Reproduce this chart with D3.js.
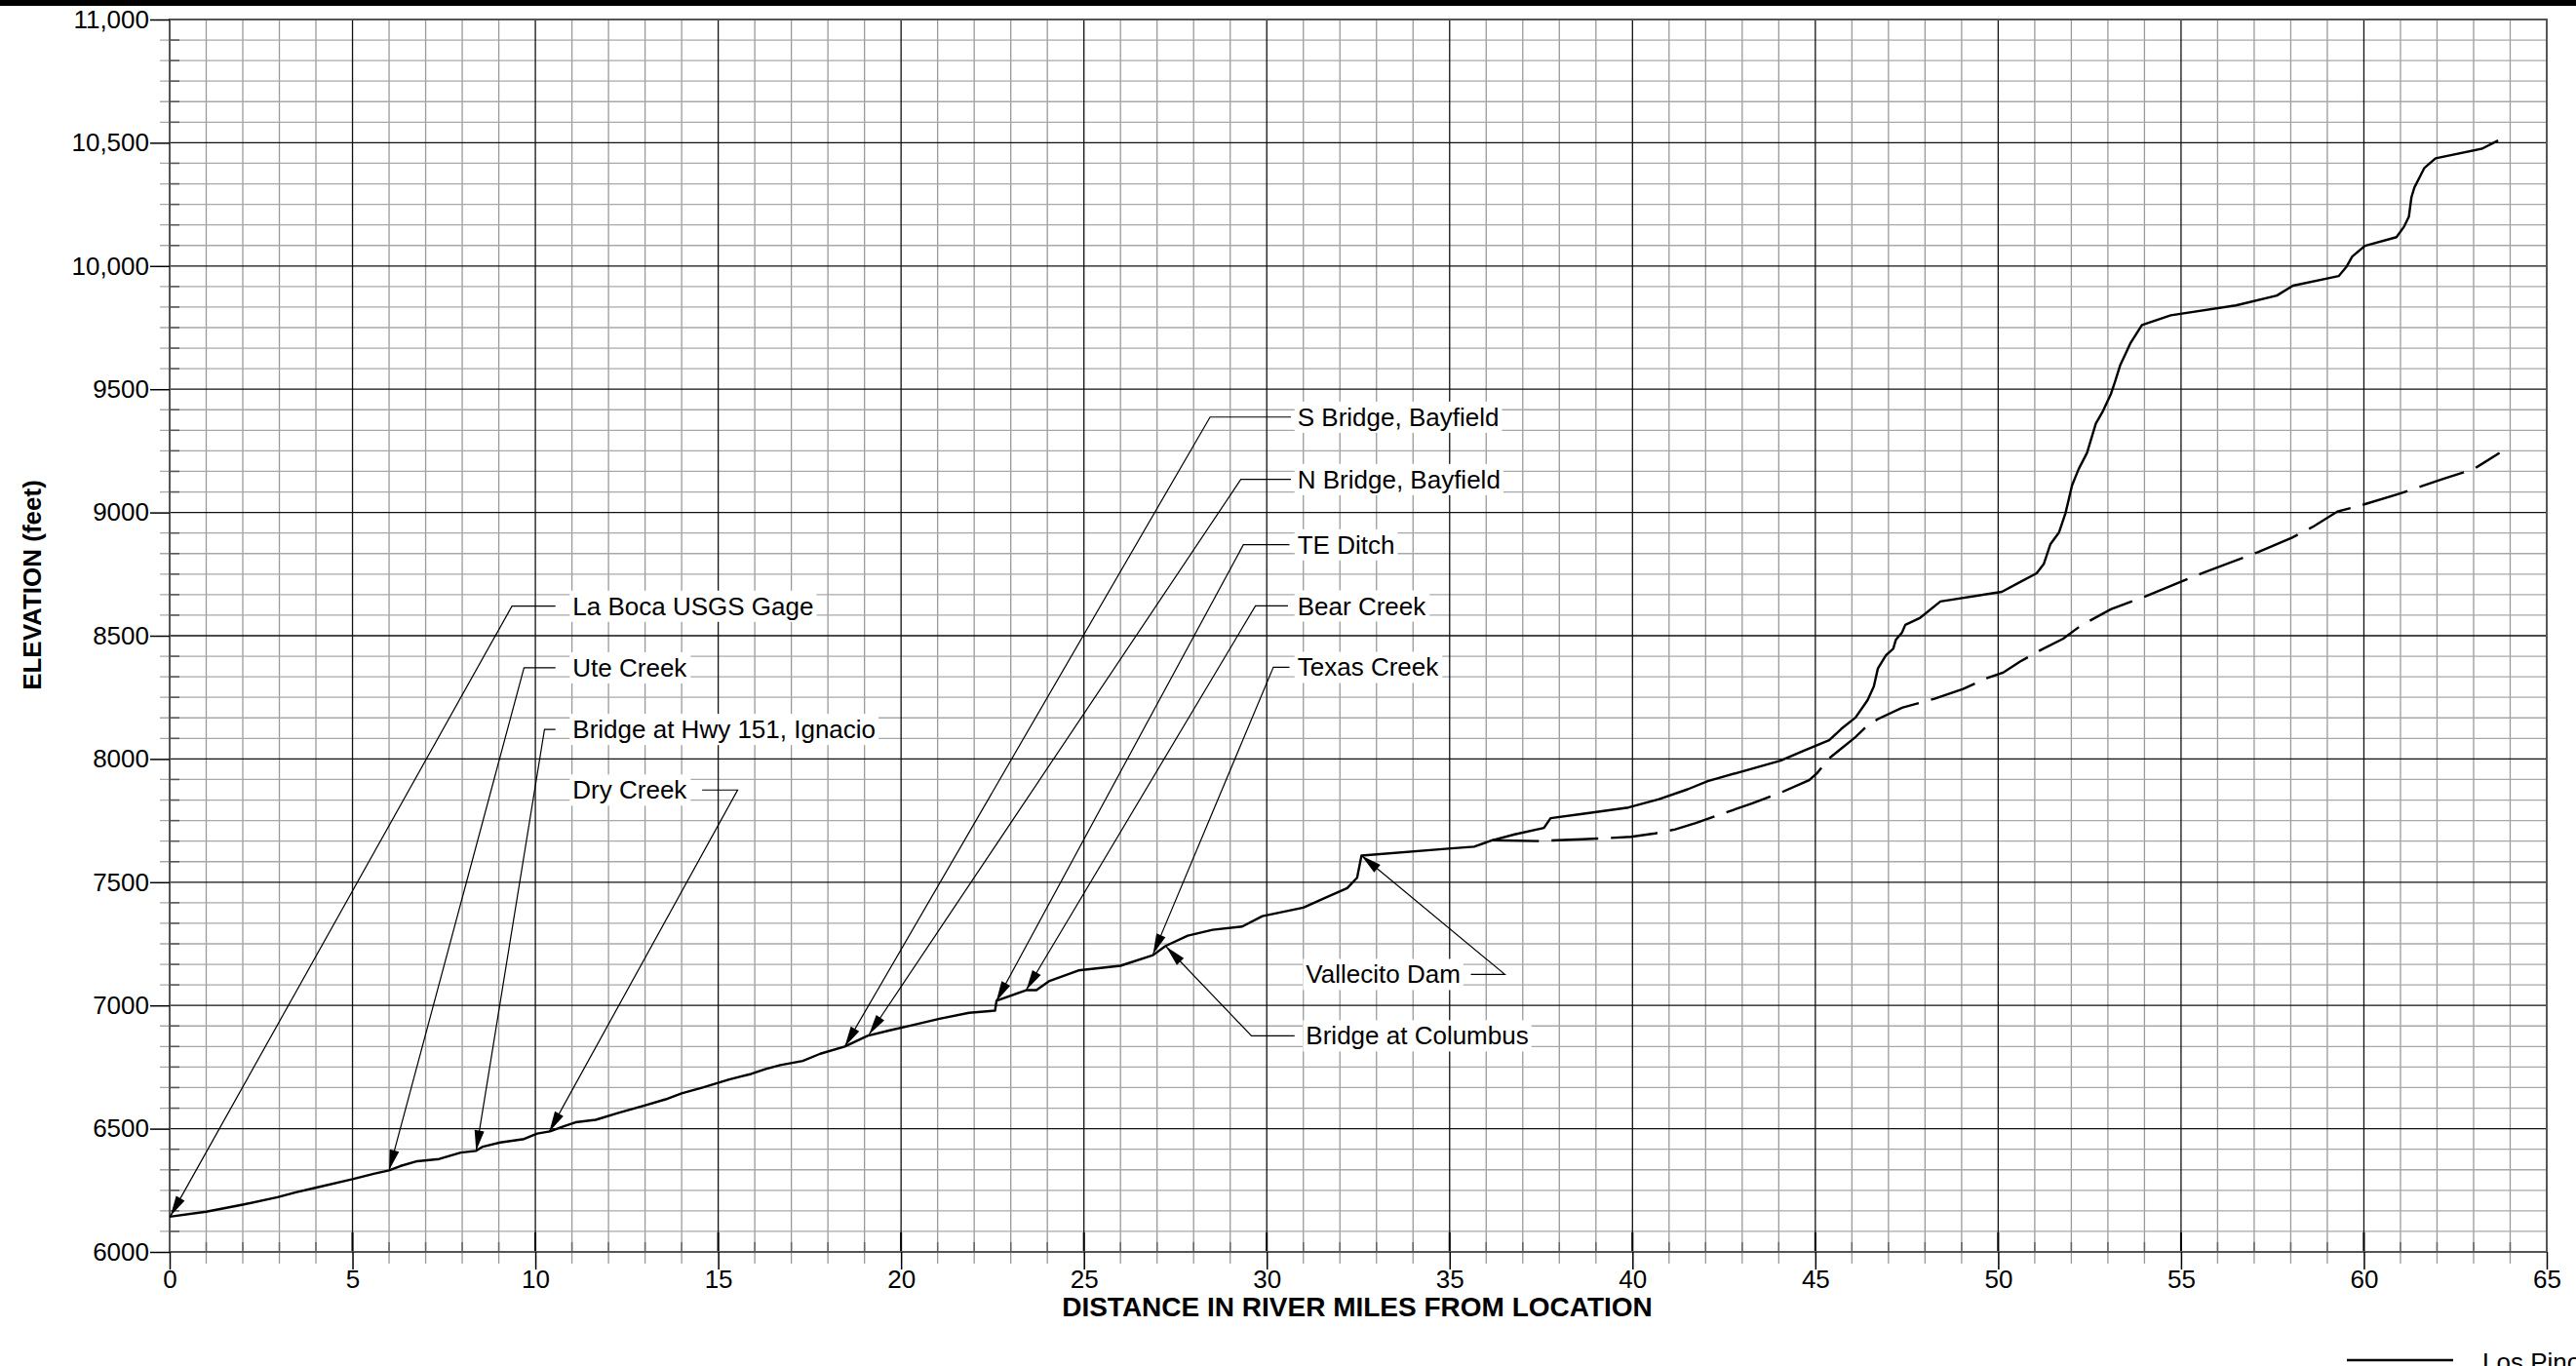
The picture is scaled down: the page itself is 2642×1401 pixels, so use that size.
<!DOCTYPE html>
<html>
<head>
<meta charset="utf-8">
<script src="https://cdnjs.cloudflare.com/ajax/libs/d3/7.8.5/d3.min.js"></script>
<style>
html, body { margin: 0; padding: 0; background: #fff; }
svg { display: block; font-family: "Liberation Sans", Arial, sans-serif; }
</style>
</head>
<body>
<div id="canvas"></div>
<script>
/* Profile of the river bed: distance (miles) and elevation (feet) */
var profileMiles = [0, 1.0, 2.0, 2.95, 3.45, 4.04, 5.0, 5.58, 6.0, 6.3, 6.77, 7.37, 7.96, 8.38, 8.56,
    9.04, 9.69, 10.05, 10.4, 10.76, 11.1, 11.65, 12.25, 12.96, 13.56, 14.0, 14.6, 15.3, 15.9, 16.3,
    16.7, 17.31, 17.79, 18.46, 19.08, 19.69, 20.23, 21.05, 21.86, 22.57, 22.61, 23.42, 23.7, 24.04,
    24.85, 26.0, 26.89, 27.23, 27.84, 28.52, 29.33, 29.88, 31.0, 31.64, 32.2, 32.47, 32.59, 35.05,
    35.67, 36.16, 36.78, 37.58, 37.76, 38.63, 39.89, 40.73, 41.51, 42.06, 43.06, 44.05, 44.72, 45.38,
    45.71, 46.1, 46.43, 46.6, 46.71, 46.93, 47.13, 47.2, 47.37, 47.46, 47.87, 48.42, 50.1, 50.54,
    51.05, 51.25, 51.43, 51.66, 51.84, 52.02, 52.2, 52.43, 52.67, 52.85, 53.08, 53.2, 53.34, 53.49,
    53.61, 53.93, 54.72, 56.5, 57.62, 58.06, 59.31, 59.52, 59.68, 60.03, 60.89, 61.1, 61.23, 61.3,
    61.38, 61.65, 61.96, 63.23, 63.67];
var profileElev = [6143, 6163, 6192, 6222, 6242, 6262, 6295, 6317, 6331, 6348, 6368, 6377, 6403, 6410, 6427,
    6444, 6458, 6480, 6489, 6509, 6526, 6536, 6563, 6593, 6619, 6643, 6668, 6700, 6722, 6742,
    6758, 6775, 6804, 6833, 6877, 6899, 6917, 6946, 6970, 6979, 7019, 7062, 7062, 7098,
    7142, 7161, 7204, 7241, 7283, 7307, 7320, 7362, 7397, 7439, 7476, 7518, 7608, 7637,
    7644, 7670, 7694, 7720, 7760, 7777, 7803, 7837, 7877, 7910, 7952, 7993, 8036, 8076,
    8122, 8168, 8239, 8294, 8367, 8420, 8447, 8483, 8513, 8544, 8573, 8639, 8678, 8713,
    8753, 8792, 8872, 8918, 8997, 9110, 9176, 9242, 9361, 9407, 9480, 9533, 9599, 9646,
    9685, 9760, 9800, 9840, 9880, 9920, 9959, 9996, 10038, 10082, 10117, 10160, 10200, 10279,
    10318, 10397, 10437, 10476, 10509];

/* Dashed branch above Vallecito */
var branchMiles = [36.16, 37.41, 38.63, 39.96, 40.62, 41.17, 41.73, 42.5, 43.28, 44.05, 44.83, 45.05,
    45.38, 45.71, 46.1, 46.38, 46.71, 47.37, 48.26, 49.04, 49.7, 50.13, 50.6, 51.14, 51.78, 52.26,
    53.08, 54.03, 55.56, 57.1, 58.04, 58.63, 59.28, 59.81, 60.99, 62.17, 63.0, 63.71];
var branchElev = [7670, 7667, 7674, 7684, 7698, 7714, 7740, 7780, 7820, 7863, 7914, 7943,
    8003, 8042, 8089, 8129, 8162, 8208, 8244, 8284, 8328, 8350, 8395, 8440, 8488, 8541,
    8607, 8660, 8753, 8839, 8898, 8944, 9004, 9024, 9077, 9136, 9176, 9242];

var xTickValues = [0, 5, 10, 15, 20, 25, 30, 35, 40, 45, 50, 55, 60, 65];
var yTickValues = [6000, 6500, 7000, 7500, 8000, 8500, 9000, 9500, 10000, 10500, 11000];
var yTickLabels = ['6000', '6500', '7000', '7500', '8000', '8500', '9000', '9500', '10,000', '10,500', '11,000'];

/* Callouts: label, where the label sits, where the leader bends, where the arrow points */
var calloutNames = ['La Boca USGS Gage', 'Ute Creek', 'Bridge at Hwy 151, Ignacio', 'Dry Creek',
    'S Bridge, Bayfield', 'N Bridge, Bayfield', 'TE Ditch', 'Bear Creek', 'Texas Creek',
    'Vallecito Dam', 'Bridge at Columbus'];
var calloutTextMile = [11.02, 11.02, 11.02, 11.02, 30.84, 30.84, 30.84, 30.84, 30.84, 31.07, 31.07];
var calloutTextElev = [8620, 8370, 8120, 7874, 9387, 9134, 8869, 8621, 8372, 7126, 6877];
var calloutStartMile = [10.55, 10.55, 10.55, 14.56, 30.66, 30.66, 30.62, 30.58, 30.62, 35.58, 30.76];
var calloutElbowMile = [9.36, 9.69, 10.25, 15.53, 28.45, 29.29, 29.36, 29.69, 30.18, 36.51, 29.58];
var calloutTipMile = [0.02, 6.0, 8.38, 10.38, 18.46, 19.12, 22.6, 23.42, 26.89, 32.59, 27.25];
var calloutTipElev = [6145, 6331, 6410, 6488, 6833, 6881, 7016, 7062, 7208, 7608, 7238];

var legendLabel = 'Los Pinos';

function init()
{
    var width = 2642;
    var height = 1401;

    var svg = d3.select('#canvas').append('svg');
    svg.attr('width', width)
       .attr('height', height);

    var x = d3.scaleLinear().domain([0, 65]).range([174, 2612]);
    var y = d3.scaleLinear().domain([6000, 11000]).range([1284, 20]);

    /* Heavy rule along the top of the sheet */
    svg.append('line')
       .attr('x1', 0).attr('x2', width)
       .attr('y1', 3).attr('y2', 3)
       .attr('stroke', '#000')
       .attr('stroke-width', 6);

    var minorX = d3.range(0, 66).filter(function(d) { return d % 5 !== 0; });
    var minorY = d3.range(0, 61).filter(function(k) { return k % 6 !== 0; })
                               .map(function(k) { return 6000 + k * 500 / 6; });

    var grid = svg.append('g');

    grid.selectAll('.vminor')
        .data(minorX)
        .enter().append('line')
            .attr('x1', function(d) { return x(d); })
            .attr('x2', function(d) { return x(d); })
            .attr('y1', y(11000))
            .attr('y2', y(6000) + 12)
            .attr('stroke', '#9a9a9a')
            .attr('stroke-width', 1.3);

    grid.selectAll('.hminor')
        .data(minorY)
        .enter().append('line')
            .attr('x1', x(0) - 10)
            .attr('x2', x(65))
            .attr('y1', function(d) { return y(d); })
            .attr('y2', function(d) { return y(d); })
            .attr('stroke', '#a8a8a8')
            .attr('stroke-width', 1.3);

    grid.selectAll('.vmajor')
        .data(xTickValues)
        .enter().append('line')
            .attr('x1', function(d) { return x(d); })
            .attr('x2', function(d) { return x(d); })
            .attr('y1', y(11000))
            .attr('y2', y(6000))
            .attr('stroke', '#111')
            .attr('stroke-width', 1.3);

    grid.selectAll('.hmajor')
        .data(yTickValues)
        .enter().append('line')
            .attr('x1', x(0))
            .attr('x2', x(65))
            .attr('y1', function(d) { return y(d); })
            .attr('y2', function(d) { return y(d); })
            .attr('stroke', '#111')
            .attr('stroke-width', 1.3);

    /* Short dark ticks on the inside of the left and bottom edges */
    grid.selectAll('.ltick')
        .data(minorY)
        .enter().append('line')
            .attr('x1', x(0)).attr('x2', x(0) + 10)
            .attr('y1', function(d) { return y(d); })
            .attr('y2', function(d) { return y(d); })
            .attr('stroke', '#555').attr('stroke-width', 1.5);

    grid.selectAll('.btick')
        .data(minorX)
        .enter().append('line')
            .attr('x1', function(d) { return x(d); })
            .attr('x2', function(d) { return x(d); })
            .attr('y1', y(6000)).attr('y2', y(6000) - 10)
            .attr('stroke', '#666').attr('stroke-width', 1.5);

    grid.selectAll('.bmtick')
        .data(xTickValues)
        .enter().append('line')
            .attr('x1', function(d) { return x(d); })
            .attr('x2', function(d) { return x(d); })
            .attr('y1', y(6000)).attr('y2', y(6000) - 20)
            .attr('stroke', '#000').attr('stroke-width', 2);

    grid.append('rect')
        .attr('x', x(0))
        .attr('y', y(11000))
        .attr('width', x(65) - x(0))
        .attr('height', y(6000) - y(11000))
        .attr('fill', 'none')
        .attr('stroke', '#555')
        .attr('stroke-width', 2);

    /* Axes */
    var xAxis = d3.axisBottom(x)
                  .tickValues(xTickValues)
                  .tickSize(18)
                  .tickPadding(1)
                  .tickFormat(function(d) { return d; });

    var yAxis = d3.axisLeft(y)
                  .tickValues(yTickValues)
                  .tickSize(20)
                  .tickPadding(1)
                  .tickFormat(function(d, i) { return yTickLabels[i]; });

    var gx = svg.append('g')
                .attr('transform', 'translate(0,' + y(6000) + ')')
                .call(xAxis);
    var gy = svg.append('g')
                .attr('transform', 'translate(' + x(0) + ',0)')
                .call(yAxis);

    [gx, gy].forEach(function(g) {
        g.select('.domain').remove();
        g.selectAll('.tick line')
         .attr('stroke', '#000')
         .attr('stroke-width', 1.5);
        g.selectAll('.tick text')
         .attr('fill', '#000')
         .style('font-family', '"Liberation Sans", Arial, sans-serif')
         .style('font-size', '26px');
    });

    svg.append('text')
       .attr('transform', 'translate(33,600) rotate(-90)')
       .attr('text-anchor', 'middle')
       .attr('dy', '0.35em')
       .style('font-size', '26px')
       .style('font-weight', 'bold')
       .text('ELEVATION (feet)');

    svg.append('text')
       .attr('x', 1392)
       .attr('y', 1350)
       .attr('text-anchor', 'middle')
       .style('font-size', '28px')
       .style('font-weight', 'bold')
       .text('DISTANCE IN RIVER MILES FROM LOCATION');

    /* Profile lines */
    var line = d3.line()
                 .x(function(d) { return x(d[0]); })
                 .y(function(d) { return y(d[1]); });

    var profile = d3.zip(profileMiles, profileElev);
    var branch = d3.zip(branchMiles, branchElev);

    svg.append('path')
       .attr('d', line(branch))
       .attr('fill', 'none')
       .attr('stroke', '#000')
       .attr('stroke-width', 2.4)
       .attr('stroke-dasharray', '48,13');

    svg.append('path')
       .attr('d', line(profile))
       .attr('fill', 'none')
       .attr('stroke', '#000')
       .attr('stroke-width', 2.4)
       .attr('stroke-linejoin', 'round');

    /* Callouts */
    var callouts = svg.append('g');

    calloutNames.forEach(function(name, i)
    {
        var g = callouts.append('g');
        var tx = x(calloutTextMile[i]);
        var ty = y(calloutTextElev[i]);

        var box = g.append('rect').attr('fill', '#fff');
        var text = g.append('text')
                    .attr('x', tx)
                    .attr('y', ty)
                    .attr('dy', '0.35em')
                    .style('font-size', '26px')
                    .text(name);

        var bb = text.node().getBBox();
        box.attr('x', bb.x - 3)
           .attr('y', bb.y - 1)
           .attr('width', bb.width + 6)
           .attr('height', bb.height + 2);

        var ex = x(calloutElbowMile[i]);
        var px = x(calloutTipMile[i]);
        var py = y(calloutTipElev[i]);

        g.append('path')
         .attr('d', 'M' + x(calloutStartMile[i]) + ',' + ty + 'H' + ex + 'L' + px + ',' + py)
         .attr('fill', 'none')
         .attr('stroke', '#000')
         .attr('stroke-width', 1.2);

        /* Filled arrowhead pointing along the leader */
        var dx = px - ex, dy = py - ty;
        var len = Math.sqrt(dx * dx + dy * dy);
        var ux = dx / len, uy = dy / len;
        var L = 21, W = 5;
        var bx = px - ux * L, by = py - uy * L;
        g.append('path')
         .attr('d', 'M' + px + ',' + py +
                    'L' + (bx - uy * W) + ',' + (by + ux * W) +
                    'L' + (bx + uy * W) + ',' + (by - ux * W) + 'Z')
         .attr('fill', '#000');
    });

    /* Legend, cut by the sheet edge */
    svg.append('line')
       .attr('x1', 2407).attr('x2', 2516)
       .attr('y1', 1395).attr('y2', 1395)
       .attr('stroke', '#000')
       .attr('stroke-width', 2.4);

    svg.append('text')
       .attr('x', 2546)
       .attr('y', 1406)
       .style('font-size', '26px')
       .text(legendLabel);
}

init();
</script>
</body>
</html>
